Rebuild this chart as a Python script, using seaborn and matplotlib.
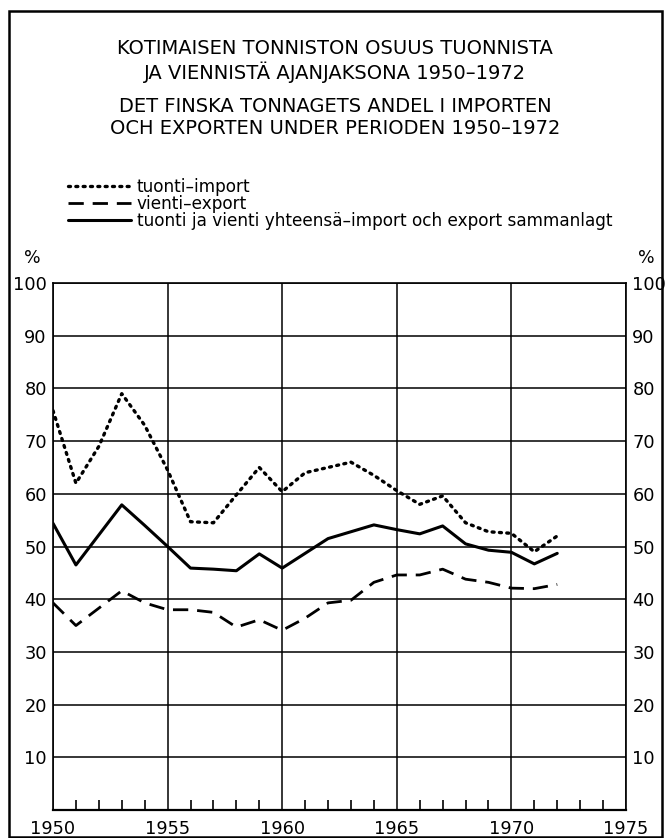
import matplotlib
matplotlib.use("Agg")
import matplotlib.pyplot as plt
import matplotlib.patches as mpatches
from matplotlib.ticker import MultipleLocator
import seaborn as sns
import pandas as pd

years = list(range(1950, 1973))
tuonti = [75.8, 62.0, 69.0, 79.0, 73.0, 64.5, 54.7, 54.5, 59.8, 65.0, 60.4, 64.0,
          65.0, 66.0, 63.5, 60.6, 58.0, 59.6, 54.5, 52.8, 52.5, 49.0, 52.0]
vienti = [39.3, 35.0, 38.3, 41.6, 39.3, 38.0, 38.0, 37.5, 34.7, 36.1, 34.1, 36.4,
          39.3, 39.8, 43.2, 44.6, 44.6, 45.7, 43.8, 43.2, 42.1, 42.0, 42.8]
yhteensa = [54.4, 46.5, 52.2, 57.9, 54.0, 50.0, 45.9, 45.7, 45.4, 48.6, 45.9, 48.7,
            51.5, 52.8, 54.1, 53.2, 52.4, 53.9, 50.5, 49.3, 48.9, 46.7, 48.7]

labels = ["tuonti\u2013import", "vienti\u2013export",
          "tuonti ja vienti yhteens\u00e4\u2013import och export sammanlagt"]
title_lines = ["KOTIMAISEN TONNISTON OSUUS TUONNISTA",
               "JA VIENNIST\u00c4 AJANJAKSONA 1950\u20131972",
               "DET FINSKA TONNAGETS ANDEL I IMPORTEN",
               "OCH EXPORTEN UNDER PERIODEN 1950\u20131972"]
yticks = [10, 20, 30, 40, 50, 60, 70, 80, 90, 100]
xticks = [1950, 1955, 1960, 1965, 1970, 1975]

sns.set_style("white")
plt.rcParams["font.family"] = ["DejaVu Sans"]
plt.rcParams["text.color"] = "black"
plt.rcParams["xtick.color"] = "black"
plt.rcParams["ytick.color"] = "black"

W, H = 667, 838
fig = plt.figure(figsize=(W / 100, H / 100), dpi=100)
ax = fig.add_axes([53 / W, 1 - 810 / H, (626 - 53) / W, (810 - 283) / H])

df = pd.DataFrame({"year": years, "tuonti": tuonti, "vienti": vienti, "yht": yhteensa})
sns.lineplot(data=df, x="year", y="tuonti", ax=ax, color="black", lw=2.4,
             linestyle=(0, (0.6, 1.6)), dash_capstyle="round", label=labels[0])
sns.lineplot(data=df, x="year", y="vienti", ax=ax, color="black", lw=2.0,
             linestyle=(0, (5.5, 3.2)), label=labels[1])
sns.lineplot(data=df, x="year", y="yht", ax=ax, color="black", lw=2.2,
             linestyle="-", label=labels[2])

ax.set_xlim(1950, 1975)
ax.set_ylim(0, 100)
ax.set_xticks(xticks)
ax.set_yticks(yticks)
ax.xaxis.set_minor_locator(MultipleLocator(1))
ax.grid(True, which="major", color="black", lw=1.1)
ax.set_axisbelow(True)
for s in ax.spines.values():
    s.set_visible(True)
    s.set_color("black")
    s.set_linewidth(1.2)
ax.spines["bottom"].set_linewidth(1.6)
ax.tick_params(axis="y", which="both", left=False, right=False, length=0,
               labelleft=True, labelright=True, labelsize=12.8, pad=4.5)
ax.tick_params(axis="x", which="major", bottom=False, length=0,
               labelsize=12.8, pad=7)
ax.tick_params(axis="x", which="minor", bottom=True, direction="in",
               length=7, width=1.2, color="black")
ax.set_xlabel("")
ax.set_ylabel("")

leg = ax.legend(loc="lower left", bbox_to_anchor=(68 / W, 1 - 230 / H),
                bbox_transform=fig.transFigure, frameon=False, fontsize=12.2,
                handlelength=3.7, handletextpad=0.35, labelspacing=-0.05,
                borderpad=0, borderaxespad=0)

fig.text(32 / W, 1 - 258 / H, "%", ha="center", va="center", fontsize=12.5)
fig.text(646 / W, 1 - 258 / H, "%", ha="center", va="center", fontsize=12.5)

for t, yy in zip(title_lines, [49, 72, 106, 128]):
    fig.text(335 / W, 1 - yy / H, t, ha="center", va="center", fontsize=14)

fig.patches.append(mpatches.Rectangle((9 / W, 1 / H), (662 - 9) / W, (837 - 11) / H,
                                      transform=fig.transFigure, fill=False,
                                      lw=1.8, edgecolor="black"))

fig.savefig("out.png", dpi=100)
